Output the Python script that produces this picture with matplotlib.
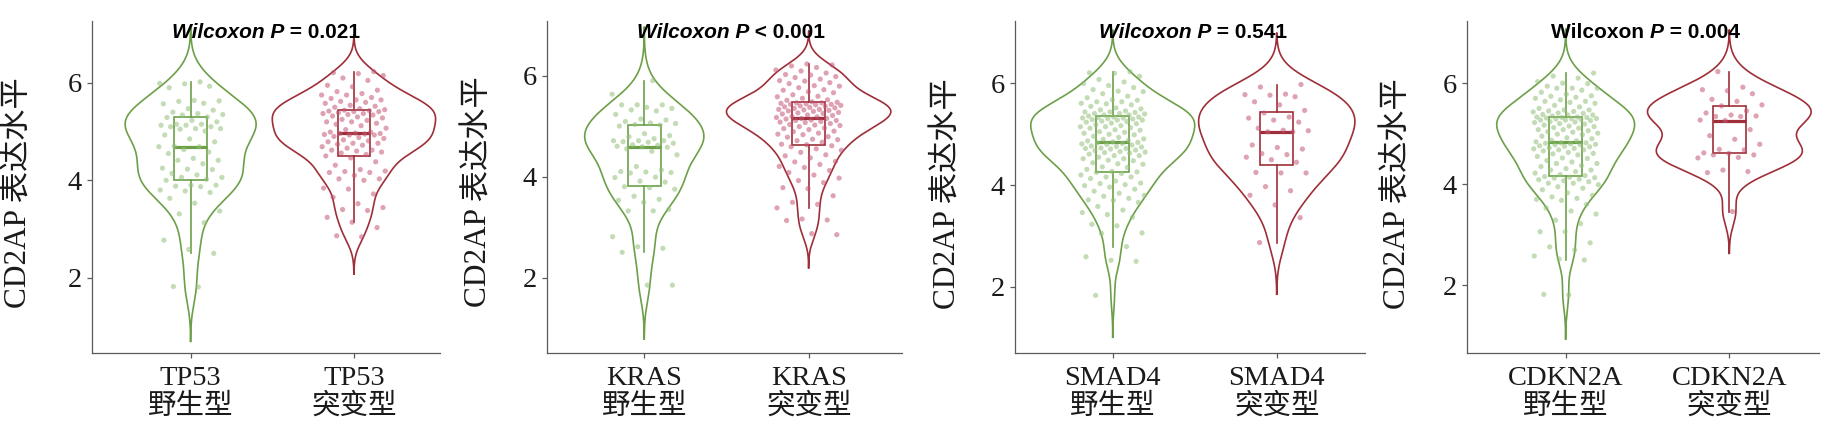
import numpy as np
import matplotlib
matplotlib.use("Agg")
import matplotlib.pyplot as plt
from matplotlib.patches import Rectangle

plt.rcParams['font.family'] = ['Liberation Serif', 'Noto Sans CJK SC']

# ---------------- data ----------------
genes = ["TP53", "KRAS", "SMAD4", "CDKN2A"]
group_names = ["野生型", "突变型"]
y_label = "CD2AP 表达水平"
p_ops = ["=", "<", "=", "="]
p_vals = ["0.021", "0.001", "0.541", "0.004"]
y_ticks = [2, 4, 6]

tp53_wt = [1.81, 1.82, 2.50, 2.58, 2.77, 3.13, 3.31, 3.37, 3.53, 3.63,
           3.75, 3.78, 3.80, 3.87, 3.88, 3.90, 3.90, 4.00, 4.02, 4.06,
           4.06, 4.11, 4.14, 4.22, 4.23, 4.25, 4.34, 4.41, 4.41, 4.45,
           4.55, 4.58, 4.63, 4.69, 4.69, 4.70, 4.79, 4.85, 4.93, 5.01,
           5.05, 5.06, 5.06, 5.10, 5.10, 5.13, 5.13, 5.15, 5.15, 5.20,
           5.23, 5.29, 5.30, 5.34, 5.35, 5.37, 5.40, 5.44, 5.47, 5.57,
           5.58, 5.62, 5.63, 5.64, 5.90, 5.93, 5.98, 5.99, 6.02]
tp53_mut = [2.84, 2.86, 3.03, 3.14, 3.24, 3.38, 3.40, 3.44, 3.52, 3.65,
            3.72, 3.82, 3.84, 4.00, 4.03, 4.03, 4.10, 4.16, 4.16, 4.18,
            4.19, 4.22, 4.31, 4.38, 4.46, 4.50, 4.53, 4.56, 4.58, 4.60,
            4.62, 4.62, 4.66, 4.69, 4.72, 4.74, 4.76, 4.76, 4.79, 4.81,
            4.83, 4.86, 4.88, 4.90, 4.93, 4.93, 4.94, 4.95, 4.96, 4.96,
            4.97, 4.99, 4.99, 5.04, 5.07, 5.12, 5.15, 5.17, 5.20, 5.20,
            5.23, 5.25, 5.28, 5.30, 5.32, 5.34, 5.35, 5.37, 5.37, 5.39,
            5.41, 5.41, 5.42, 5.43, 5.44, 5.45, 5.47, 5.50, 5.52, 5.54,
            5.58, 5.60, 5.62, 5.65, 5.65, 5.68, 5.70, 5.75, 5.75, 5.78,
            5.82, 5.85, 5.92, 5.95, 6.05, 6.10, 6.15, 6.19, 6.21, 6.23]
kras_wt = [1.85, 1.85, 2.50, 2.58, 2.61, 2.81, 3.32, 3.32, 3.35, 3.49,
           3.53, 3.55, 3.61, 3.75, 3.78, 3.80, 3.89, 3.91, 3.98, 3.99,
           4.07, 4.08, 4.09, 4.10, 4.13, 4.20, 4.43, 4.50, 4.55, 4.58,
           4.59, 4.60, 4.62, 4.63, 4.66, 4.68, 4.69, 4.71, 4.71, 4.71,
           4.75, 4.79, 4.81, 4.85, 5.00, 5.02, 5.03, 5.05, 5.06, 5.09,
           5.12, 5.14, 5.23, 5.30, 5.32, 5.35, 5.37, 5.42, 5.42, 5.42,
           5.63, 5.90]
kras_mut = [2.85, 2.87, 3.13, 3.14, 3.16, 3.38, 3.45, 3.49, 3.62, 3.76,
            3.78, 3.88, 3.92, 3.97, 4.03, 4.08, 4.12, 4.18, 4.20, 4.24,
            4.29, 4.30, 4.37, 4.41, 4.43, 4.48, 4.52, 4.55, 4.59, 4.61,
            4.63, 4.64, 4.68, 4.71, 4.73, 4.74, 4.78, 4.79, 4.83, 4.84,
            4.86, 4.89, 4.90, 4.93, 4.95, 4.96, 4.99, 5.01, 5.02, 5.03,
            5.05, 5.07, 5.08, 5.09, 5.11, 5.11, 5.12, 5.14, 5.15, 5.15,
            5.17, 5.18, 5.19, 5.21, 5.22, 5.24, 5.25, 5.26, 5.27, 5.29,
            5.30, 5.31, 5.32, 5.33, 5.33, 5.35, 5.36, 5.37, 5.38, 5.39,
            5.40, 5.41, 5.42, 5.43, 5.43, 5.44, 5.45, 5.46, 5.46, 5.47,
            5.48, 5.51, 5.52, 5.55, 5.58, 5.59, 5.62, 5.66, 5.68, 5.71,
            5.72, 5.76, 5.79, 5.80, 5.84, 5.86, 5.89, 5.90, 5.93, 5.96,
            5.98, 6.01, 6.02, 6.05, 6.09, 6.11, 6.16, 6.19, 6.21, 6.23]
smad4_wt = [1.83, 2.50, 2.52, 2.59, 2.79, 3.05, 3.06, 3.20, 3.23, 3.37,
            3.42, 3.46, 3.51, 3.58, 3.66, 3.70, 3.71, 3.74, 3.78, 3.80,
            3.84, 3.88, 3.92, 3.96, 3.99, 4.01, 4.03, 4.04, 4.08, 4.13,
            4.16, 4.16, 4.20, 4.23, 4.25, 4.26, 4.27, 4.31, 4.35, 4.36,
            4.41, 4.42, 4.44, 4.48, 4.49, 4.52, 4.52, 4.55, 4.58, 4.58,
            4.61, 4.63, 4.64, 4.65, 4.66, 4.68, 4.69, 4.71, 4.72, 4.72,
            4.73, 4.75, 4.76, 4.77, 4.79, 4.80, 4.81, 4.82, 4.83, 4.84,
            4.85, 4.87, 4.88, 4.90, 4.91, 4.94, 4.96, 4.99, 5.00, 5.02,
            5.04, 5.05, 5.08, 5.09, 5.12, 5.13, 5.15, 5.15, 5.17, 5.19,
            5.21, 5.22, 5.24, 5.25, 5.26, 5.28, 5.28, 5.29, 5.30, 5.31,
            5.32, 5.32, 5.33, 5.34, 5.34, 5.36, 5.38, 5.38, 5.40, 5.41,
            5.41, 5.43, 5.44, 5.44, 5.46, 5.48, 5.50, 5.52, 5.55, 5.58,
            5.60, 5.61, 5.64, 5.64, 5.67, 5.68, 5.72, 5.75, 5.80, 5.84,
            5.85, 5.88, 5.92, 5.96, 6.00, 6.03, 6.08, 6.14, 6.20, 6.21,
            6.23]
smad4_mut = [2.87, 3.36, 3.61, 3.80, 3.89, 3.97, 4.24, 4.24, 4.25, 4.45,
             4.50, 4.55, 4.60, 4.62, 4.71, 4.74, 4.79, 5.05, 5.05, 5.07,
             5.08, 5.12, 5.24, 5.28, 5.32, 5.34, 5.42, 5.47, 5.58, 5.64,
             5.74, 5.77, 5.78, 5.79, 5.93, 5.98]
cdkn2a_wt = [1.81, 1.82, 2.50, 2.52, 2.58, 2.70, 2.76, 2.84, 3.06, 3.06,
             3.22, 3.29, 3.41, 3.47, 3.53, 3.60, 3.68, 3.70, 3.72, 3.75,
             3.78, 3.83, 3.89, 3.92, 3.95, 3.99, 4.02, 4.02, 4.05, 4.07,
             4.09, 4.10, 4.12, 4.13, 4.14, 4.15, 4.17, 4.19, 4.22, 4.25,
             4.28, 4.28, 4.31, 4.35, 4.37, 4.41, 4.41, 4.44, 4.47, 4.51,
             4.52, 4.55, 4.58, 4.60, 4.61, 4.63, 4.66, 4.68, 4.68, 4.70,
             4.71, 4.72, 4.74, 4.75, 4.76, 4.78, 4.78, 4.79, 4.80, 4.81,
             4.82, 4.82, 4.84, 4.86, 4.87, 4.90, 4.92, 4.95, 4.98, 4.99,
             5.01, 5.03, 5.04, 5.06, 5.08, 5.08, 5.11, 5.12, 5.14, 5.15,
             5.17, 5.19, 5.20, 5.22, 5.23, 5.24, 5.26, 5.27, 5.27, 5.28,
             5.29, 5.30, 5.30, 5.31, 5.32, 5.32, 5.33, 5.33, 5.35, 5.37,
             5.37, 5.38, 5.40, 5.41, 5.43, 5.44, 5.45, 5.47, 5.47, 5.50,
             5.53, 5.56, 5.60, 5.62, 5.64, 5.64, 5.67, 5.70, 5.72, 5.74,
             5.75, 5.78, 5.82, 5.86, 5.90, 5.90, 5.90, 5.94, 5.99, 6.00,
             6.03, 6.10, 6.14, 6.20]
cdkn2a_mut = [3.46, 4.23, 4.25, 4.28, 4.52, 4.53, 4.58, 4.58, 4.61, 4.62,
              4.68, 4.69, 4.79, 4.89, 4.96, 5.08, 5.26, 5.27, 5.34, 5.34,
              5.35, 5.37, 5.41, 5.45, 5.55, 5.57, 5.64, 5.68, 5.79, 5.85,
              5.87, 5.92, 6.23]

panel_values = [(tp53_wt, tp53_mut), (kras_wt, kras_mut),
                (smad4_wt, smad4_mut), (cdkn2a_wt, cdkn2a_mut)]

# ---------------- layout / style ----------------
W, H = 1835, 429
ax_px = [(92, 440), (547.3, 901.7), (1015, 1365), (1467.3, 1819)]
ax_top, ax_bot = 21, 353
xlims = [(0.396, 2.527), (0.41, 2.566), (0.404, 2.538), (0.399, 2.548)]
ylims = [(0.455, 7.27), (0.507, 7.08), (0.696, 7.23), (0.66, 7.23)]
ylabel_xy = [(-0.168, 0.482), (-0.152, 0.486), (-0.151, 0.479), (-0.157, 0.481)]
title_cx = [266.3, 731, 1193.3, 1645.3]
title_base = 38.5

line_cols = ['#6c9f48', '#9e2f38']
pt_cols = ['#93c07a', '#c45676']
spine_col = '#5a5a5a'
VW = 1.0      # violin full width
BW = 0.2      # box width
JIT = 0.2     # jitter half width


def kde(v):
    v = np.asarray(v, float)
    n = len(v)
    sd = v.std(ddof=1)
    q25, q75 = np.percentile(v, [25, 75])
    bw = 0.9 * min(sd, (q75 - q25) / 1.34) * n ** -0.2
    grid = np.linspace(v.min() - 3 * bw, v.max() + 3 * bw, 512)
    dens = np.exp(-0.5 * ((grid[:, None] - v[None, :]) / bw) ** 2).sum(1)
    dens /= n * bw * np.sqrt(2 * np.pi)
    return grid, dens


fig = plt.figure(figsize=(W / 100, H / 100), dpi=100)
axes = []
for k in range(4):
    l, r = ax_px[k]
    ax = fig.add_axes([l / W, (H - ax_bot) / H, (r - l) / W, (ax_bot - ax_top) / H])
    axes.append(ax)
    groups = panel_values[k]
    curves = [kde(g) for g in groups]
    dmax = max(c[1].max() for c in curves)
    for gi, (vals, (grid, dens)) in enumerate(zip(groups, curves)):
        c = gi + 1
        v = np.asarray(vals, float)
        half = dens / dmax * VW / 2
        xs = np.concatenate([c - half, (c + half)[::-1], [c - half[0]]])
        ys = np.concatenate([grid, grid[::-1], [grid[0]]])
        ax.plot(xs, ys, color=line_cols[gi], lw=1.2, zorder=2, solid_joinstyle='round')
        q1, med, q3 = np.percentile(v, [25, 50, 75])
        iqr = q3 - q1
        lo = v[v >= q1 - 1.5 * iqr].min()
        hi = v[v <= q3 + 1.5 * iqr].max()
        ax.plot([c, c], [q3, hi], color=line_cols[gi], lw=1.2, zorder=3)
        ax.plot([c, c], [lo, q1], color=line_cols[gi], lw=1.2, zorder=3)
        ax.add_patch(Rectangle((c - BW / 2, q1), BW, iqr, facecolor='none',
                               edgecolor=line_cols[gi], lw=1.2, zorder=3))
        ax.plot([c - BW / 2, c + BW / 2], [med, med], color=line_cols[gi], lw=2.3,
                zorder=3, solid_capstyle='butt')
        idx = np.arange(len(v))
        offs = ((idx + 1) * 0.6180339887 + 0.31 * k) % 1.0
        ax.scatter(c + (offs - 0.5) * 2 * JIT, v, s=14, color=pt_cols[gi],
                   alpha=0.55, edgecolors='none', zorder=4)

    ax.set_xlim(*xlims[k])
    ax.set_ylim(*ylims[k])
    ax.set_xticks([1, 2])
    ax.set_xticklabels([f"{genes[k]}\n{g}" for g in group_names],
                       fontsize=20.5, linespacing=1.12, color='#1a1a1a')
    ax.set_yticks(y_ticks)
    ax.set_yticklabels([str(t) for t in y_ticks], fontsize=20.5, color='#1a1a1a')
    for s in ['top', 'right']:
        ax.spines[s].set_visible(False)
    for s in ['left', 'bottom']:
        ax.spines[s].set_color(spine_col)
        ax.spines[s].set_linewidth(0.9)
    ax.tick_params(axis='both', colors=spine_col, length=3.5, width=0.9,
                   labelcolor='#1a1a1a')
    ax.tick_params(axis='y', pad=4.0)
    ax.tick_params(axis='x', pad=6)
    ax.set_ylabel(y_label, fontsize=22.5, color='#1a1a1a')
    ax.yaxis.set_label_coords(*ylabel_xy[k])

# ---- Wilcoxon annotations (mixed bold / bold-italic) ----
title_parts = []
for k in range(4):
    if k == 3:
        parts = [("Wilcoxon ", 'normal'), ("P", 'italic'),
                 (f" {p_ops[k]} {p_vals[k]}", 'normal')]
    else:
        parts = [("Wilcoxon P", 'italic'), (f" {p_ops[k]} {p_vals[k]}", 'normal')]
    title_parts.append(parts)

first_texts, last_texts = [], []
for k in range(4):
    ax = axes[k]
    parts = title_parts[k]
    t0 = fig.text(0.5, (H - title_base) / H, parts[0][0], ha='left', va='baseline',
                  fontsize=15, fontweight='bold', fontstyle=parts[0][1],
                  family='Liberation Sans', color='black', zorder=10)
    prev = t0
    for s, st in parts[1:]:
        prev = ax.annotate(s, xy=(1, 0), xycoords=prev, ha='left', va='bottom',
                           fontsize=15, fontweight='bold', fontstyle=st,
                           family='Liberation Sans', color='black',
                           annotation_clip=False, zorder=10)
    first_texts.append(t0)
    last_texts.append(prev)

fig.canvas.draw()
r = fig.canvas.get_renderer()
for k in range(4):
    x0 = first_texts[k].get_window_extent(r).x0
    x1 = last_texts[k].get_window_extent(r).x1
    cur = (x0 + x1) / 2
    shift = title_cx[k] - cur
    first_texts[k].set_x(0.5 + shift / W)

fig.savefig("out.png", dpi=100, facecolor='white')
